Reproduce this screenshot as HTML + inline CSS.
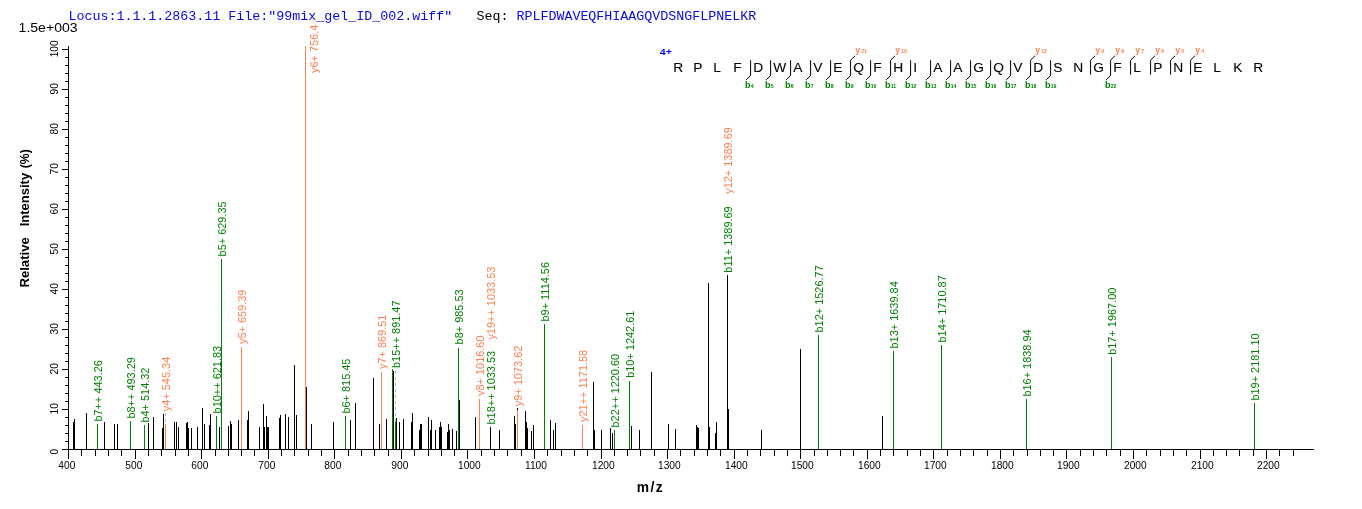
<!DOCTYPE html>
<html><head><meta charset="utf-8"><title>Spectrum</title>
<style>
html,body{margin:0;padding:0;background:#fff;}
svg{display:block;}
.ax{font-family:"Liberation Sans",Arial,sans-serif;}
.mono{font-family:"Liberation Mono","Courier New",monospace;}
</style></head><body>
<svg width="1362" height="509" viewBox="0 0 1362 509">
<rect x="0" y="0" width="1362" height="509" fill="#ffffff"/>

<text class="mono" x="68.4" y="19.6" font-size="13.33" fill="#0808e0" xml:space="preserve">Locus:1.1.1.2863.11 File:"99mix_gel_ID_002.wiff"</text>
<text class="mono" x="476.4" y="19.6" font-size="13.33" fill="#000" xml:space="preserve">Seq:</text>
<text class="mono" x="516.4" y="19.6" font-size="13.33" fill="#0808e0">RPLFDWAVEQFHIAAGQVDSNGFLPNELKR</text>
<text class="ax" x="18.6" y="31.7" font-size="12.3" textLength="59" lengthAdjust="spacingAndGlyphs" fill="#000">1.5e+003</text>
<g shape-rendering="crispEdges" fill="#000">
<rect x="68" y="46" width="1" height="404"/>
<rect x="62" y="449" width="1252" height="1"/>
<rect x="62" y="449" width="6" height="1"/>
<rect x="65" y="441" width="3" height="1"/>
<rect x="65" y="433" width="3" height="1"/>
<rect x="65" y="425" width="3" height="1"/>
<rect x="65" y="417" width="3" height="1"/>
<rect x="62" y="409" width="6" height="1"/>
<rect x="65" y="401" width="3" height="1"/>
<rect x="65" y="393" width="3" height="1"/>
<rect x="65" y="385" width="3" height="1"/>
<rect x="65" y="377" width="3" height="1"/>
<rect x="62" y="369" width="6" height="1"/>
<rect x="65" y="361" width="3" height="1"/>
<rect x="65" y="353" width="3" height="1"/>
<rect x="65" y="345" width="3" height="1"/>
<rect x="65" y="337" width="3" height="1"/>
<rect x="62" y="329" width="6" height="1"/>
<rect x="65" y="321" width="3" height="1"/>
<rect x="65" y="313" width="3" height="1"/>
<rect x="65" y="305" width="3" height="1"/>
<rect x="65" y="297" width="3" height="1"/>
<rect x="62" y="289" width="6" height="1"/>
<rect x="65" y="281" width="3" height="1"/>
<rect x="65" y="273" width="3" height="1"/>
<rect x="65" y="265" width="3" height="1"/>
<rect x="65" y="257" width="3" height="1"/>
<rect x="62" y="249" width="6" height="1"/>
<rect x="65" y="241" width="3" height="1"/>
<rect x="65" y="233" width="3" height="1"/>
<rect x="65" y="225" width="3" height="1"/>
<rect x="65" y="217" width="3" height="1"/>
<rect x="62" y="209" width="6" height="1"/>
<rect x="65" y="201" width="3" height="1"/>
<rect x="65" y="193" width="3" height="1"/>
<rect x="65" y="185" width="3" height="1"/>
<rect x="65" y="177" width="3" height="1"/>
<rect x="62" y="169" width="6" height="1"/>
<rect x="65" y="161" width="3" height="1"/>
<rect x="65" y="153" width="3" height="1"/>
<rect x="65" y="145" width="3" height="1"/>
<rect x="65" y="137" width="3" height="1"/>
<rect x="62" y="129" width="6" height="1"/>
<rect x="65" y="121" width="3" height="1"/>
<rect x="65" y="113" width="3" height="1"/>
<rect x="65" y="105" width="3" height="1"/>
<rect x="65" y="97" width="3" height="1"/>
<rect x="62" y="89" width="6" height="1"/>
<rect x="65" y="81" width="3" height="1"/>
<rect x="65" y="73" width="3" height="1"/>
<rect x="65" y="65" width="3" height="1"/>
<rect x="65" y="57" width="3" height="1"/>
<rect x="62" y="49" width="6" height="1"/>
<rect x="68" y="450" width="1" height="9"/>
<rect x="81" y="450" width="1" height="6"/>
<rect x="95" y="450" width="1" height="6"/>
<rect x="108" y="450" width="1" height="6"/>
<rect x="121" y="450" width="1" height="6"/>
<rect x="135" y="450" width="1" height="9"/>
<rect x="148" y="450" width="1" height="6"/>
<rect x="161" y="450" width="1" height="6"/>
<rect x="175" y="450" width="1" height="6"/>
<rect x="188" y="450" width="1" height="6"/>
<rect x="201" y="450" width="1" height="9"/>
<rect x="215" y="450" width="1" height="6"/>
<rect x="228" y="450" width="1" height="6"/>
<rect x="241" y="450" width="1" height="6"/>
<rect x="254" y="450" width="1" height="6"/>
<rect x="268" y="450" width="1" height="9"/>
<rect x="281" y="450" width="1" height="6"/>
<rect x="294" y="450" width="1" height="6"/>
<rect x="308" y="450" width="1" height="6"/>
<rect x="321" y="450" width="1" height="6"/>
<rect x="334" y="450" width="1" height="9"/>
<rect x="348" y="450" width="1" height="6"/>
<rect x="361" y="450" width="1" height="6"/>
<rect x="374" y="450" width="1" height="6"/>
<rect x="388" y="450" width="1" height="6"/>
<rect x="401" y="450" width="1" height="9"/>
<rect x="414" y="450" width="1" height="6"/>
<rect x="428" y="450" width="1" height="6"/>
<rect x="441" y="450" width="1" height="6"/>
<rect x="454" y="450" width="1" height="6"/>
<rect x="467" y="450" width="1" height="9"/>
<rect x="481" y="450" width="1" height="6"/>
<rect x="494" y="450" width="1" height="6"/>
<rect x="507" y="450" width="1" height="6"/>
<rect x="521" y="450" width="1" height="6"/>
<rect x="534" y="450" width="1" height="9"/>
<rect x="547" y="450" width="1" height="6"/>
<rect x="561" y="450" width="1" height="6"/>
<rect x="574" y="450" width="1" height="6"/>
<rect x="587" y="450" width="1" height="6"/>
<rect x="601" y="450" width="1" height="9"/>
<rect x="614" y="450" width="1" height="6"/>
<rect x="627" y="450" width="1" height="6"/>
<rect x="640" y="450" width="1" height="6"/>
<rect x="654" y="450" width="1" height="6"/>
<rect x="667" y="450" width="1" height="9"/>
<rect x="680" y="450" width="1" height="6"/>
<rect x="694" y="450" width="1" height="6"/>
<rect x="707" y="450" width="1" height="6"/>
<rect x="720" y="450" width="1" height="6"/>
<rect x="734" y="450" width="1" height="9"/>
<rect x="747" y="450" width="1" height="6"/>
<rect x="760" y="450" width="1" height="6"/>
<rect x="774" y="450" width="1" height="6"/>
<rect x="787" y="450" width="1" height="6"/>
<rect x="800" y="450" width="1" height="9"/>
<rect x="814" y="450" width="1" height="6"/>
<rect x="827" y="450" width="1" height="6"/>
<rect x="840" y="450" width="1" height="6"/>
<rect x="853" y="450" width="1" height="6"/>
<rect x="867" y="450" width="1" height="9"/>
<rect x="880" y="450" width="1" height="6"/>
<rect x="893" y="450" width="1" height="6"/>
<rect x="907" y="450" width="1" height="6"/>
<rect x="920" y="450" width="1" height="6"/>
<rect x="933" y="450" width="1" height="9"/>
<rect x="947" y="450" width="1" height="6"/>
<rect x="960" y="450" width="1" height="6"/>
<rect x="973" y="450" width="1" height="6"/>
<rect x="987" y="450" width="1" height="6"/>
<rect x="1000" y="450" width="1" height="9"/>
<rect x="1013" y="450" width="1" height="6"/>
<rect x="1027" y="450" width="1" height="6"/>
<rect x="1040" y="450" width="1" height="6"/>
<rect x="1053" y="450" width="1" height="6"/>
<rect x="1066" y="450" width="1" height="9"/>
<rect x="1080" y="450" width="1" height="6"/>
<rect x="1093" y="450" width="1" height="6"/>
<rect x="1106" y="450" width="1" height="6"/>
<rect x="1120" y="450" width="1" height="6"/>
<rect x="1133" y="450" width="1" height="9"/>
<rect x="1146" y="450" width="1" height="6"/>
<rect x="1160" y="450" width="1" height="6"/>
<rect x="1173" y="450" width="1" height="6"/>
<rect x="1186" y="450" width="1" height="6"/>
<rect x="1200" y="450" width="1" height="9"/>
<rect x="1213" y="450" width="1" height="6"/>
<rect x="1226" y="450" width="1" height="6"/>
<rect x="1239" y="450" width="1" height="6"/>
<rect x="1253" y="450" width="1" height="6"/>
<rect x="1266" y="450" width="1" height="9"/>
<rect x="1279" y="450" width="1" height="6"/>
<rect x="1293" y="450" width="1" height="6"/>
</g>
<text class="ax" x="58.3" y="469" font-size="10.2" fill="#000">400</text>
<text class="ax" x="125.3" y="469" font-size="10.2" fill="#000">500</text>
<text class="ax" x="191.3" y="469" font-size="10.2" fill="#000">600</text>
<text class="ax" x="258.3" y="469" font-size="10.2" fill="#000">700</text>
<text class="ax" x="324.3" y="469" font-size="10.2" fill="#000">800</text>
<text class="ax" x="391.3" y="469" font-size="10.2" fill="#000">900</text>
<text class="ax" x="458.0" y="469" font-size="10.2" fill="#000">1000</text>
<text class="ax" x="525.0" y="469" font-size="10.2" fill="#000">1100</text>
<text class="ax" x="592.0" y="469" font-size="10.2" fill="#000">1200</text>
<text class="ax" x="658.0" y="469" font-size="10.2" fill="#000">1300</text>
<text class="ax" x="725.0" y="469" font-size="10.2" fill="#000">1400</text>
<text class="ax" x="791.0" y="469" font-size="10.2" fill="#000">1500</text>
<text class="ax" x="858.0" y="469" font-size="10.2" fill="#000">1600</text>
<text class="ax" x="924.0" y="469" font-size="10.2" fill="#000">1700</text>
<text class="ax" x="991.0" y="469" font-size="10.2" fill="#000">1800</text>
<text class="ax" x="1057.0" y="469" font-size="10.2" fill="#000">1900</text>
<text class="ax" x="1124.0" y="469" font-size="10.2" fill="#000">2000</text>
<text class="ax" x="1191.0" y="469" font-size="10.2" fill="#000">2100</text>
<text class="ax" x="1257.0" y="469" font-size="10.2" fill="#000">2200</text>
<text class="ax" font-size="10.2" fill="#000" transform="translate(57.6,454.6) rotate(-90)">0</text>
<text class="ax" font-size="10.2" fill="#000" text-anchor="middle" transform="translate(57.6,408.8) rotate(-90)">10</text>
<text class="ax" font-size="10.2" fill="#000" text-anchor="middle" transform="translate(57.6,368.8) rotate(-90)">20</text>
<text class="ax" font-size="10.2" fill="#000" text-anchor="middle" transform="translate(57.6,328.8) rotate(-90)">30</text>
<text class="ax" font-size="10.2" fill="#000" text-anchor="middle" transform="translate(57.6,288.8) rotate(-90)">40</text>
<text class="ax" font-size="10.2" fill="#000" text-anchor="middle" transform="translate(57.6,248.8) rotate(-90)">50</text>
<text class="ax" font-size="10.2" fill="#000" text-anchor="middle" transform="translate(57.6,208.8) rotate(-90)">60</text>
<text class="ax" font-size="10.2" fill="#000" text-anchor="middle" transform="translate(57.6,168.8) rotate(-90)">70</text>
<text class="ax" font-size="10.2" fill="#000" text-anchor="middle" transform="translate(57.6,128.8) rotate(-90)">80</text>
<text class="ax" font-size="10.2" fill="#000" text-anchor="middle" transform="translate(57.6,88.8) rotate(-90)">90</text>
<text class="ax" font-size="10.2" fill="#000" text-anchor="middle" transform="translate(57.6,48.8) rotate(-90)">100</text>
<text class="ax" font-size="13.33" font-weight="bold" fill="#000" transform="translate(29.2,287.6) rotate(-90)" textLength="50.4" lengthAdjust="spacingAndGlyphs">Relative</text>
<text class="ax" font-size="13.33" font-weight="bold" fill="#000" transform="translate(29.2,226.3) rotate(-90)" textLength="53.5" lengthAdjust="spacingAndGlyphs">Intensity</text>
<text class="ax" font-size="13.33" font-weight="bold" fill="#000" transform="translate(29.2,168.2) rotate(-90)" textLength="19" lengthAdjust="spacingAndGlyphs">(%)</text>
<text class="ax" font-size="13.8" font-weight="bold" fill="#000" x="636.7" y="491.7" letter-spacing="1.5">m/z</text>
<g shape-rendering="crispEdges">
<rect x="73" y="422" width="1" height="27" fill="#000000"/>
<rect x="74" y="419" width="1" height="30" fill="#000000"/>
<rect x="86" y="413" width="1" height="36" fill="#000000"/>
<rect x="97" y="424" width="1" height="25" fill="#008000"/>
<rect x="104" y="422" width="1" height="27" fill="#000000"/>
<rect x="114" y="424" width="1" height="25" fill="#000000"/>
<rect x="117" y="424" width="1" height="25" fill="#000000"/>
<rect x="130" y="421" width="1" height="28" fill="#008000"/>
<rect x="144" y="425" width="1" height="24" fill="#008000"/>
<rect x="148" y="423" width="1" height="26" fill="#000000"/>
<rect x="153" y="417" width="1" height="32" fill="#000000"/>
<rect x="162" y="428" width="1" height="21" fill="#000000"/>
<rect x="163" y="414" width="1" height="35" fill="#000000"/>
<rect x="165" y="424" width="1" height="25" fill="#ff7f50"/>
<rect x="174" y="422" width="1" height="27" fill="#000000"/>
<rect x="176" y="422" width="1" height="27" fill="#000000"/>
<rect x="178" y="427" width="1" height="22" fill="#000000"/>
<rect x="186" y="423" width="1" height="26" fill="#000000"/>
<rect x="187" y="422" width="1" height="27" fill="#000000"/>
<rect x="188" y="428" width="1" height="21" fill="#000000"/>
<rect x="191" y="428" width="1" height="21" fill="#000000"/>
<rect x="197" y="427" width="1" height="22" fill="#000000"/>
<rect x="202" y="408" width="1" height="41" fill="#000000"/>
<rect x="204" y="424" width="1" height="25" fill="#000000"/>
<rect x="209" y="425" width="1" height="24" fill="#000000"/>
<rect x="210" y="414" width="1" height="35" fill="#000000"/>
<rect x="216" y="416" width="1" height="33" fill="#008000"/>
<rect x="219" y="427" width="1" height="22" fill="#000000"/>
<rect x="221" y="259" width="1" height="190" fill="#008000"/>
<rect x="228" y="426" width="1" height="23" fill="#000000"/>
<rect x="230" y="421" width="1" height="28" fill="#000000"/>
<rect x="231" y="424" width="1" height="25" fill="#000000"/>
<rect x="238" y="420" width="1" height="29" fill="#000000"/>
<rect x="241" y="347" width="1" height="102" fill="#ff7f50"/>
<rect x="247" y="420" width="1" height="29" fill="#000000"/>
<rect x="248" y="411" width="1" height="38" fill="#000000"/>
<rect x="259" y="427" width="1" height="22" fill="#000000"/>
<rect x="263" y="404" width="1" height="45" fill="#000000"/>
<rect x="264" y="427" width="1" height="22" fill="#000000"/>
<rect x="266" y="416" width="1" height="33" fill="#000000"/>
<rect x="267" y="427" width="1" height="22" fill="#000000"/>
<rect x="268" y="427" width="1" height="22" fill="#000000"/>
<rect x="279" y="418" width="1" height="31" fill="#000000"/>
<rect x="280" y="415" width="1" height="34" fill="#000000"/>
<rect x="285" y="414" width="1" height="35" fill="#000000"/>
<rect x="288" y="417" width="1" height="32" fill="#000000"/>
<rect x="294" y="365" width="1" height="84" fill="#000000"/>
<rect x="296" y="415" width="1" height="34" fill="#000000"/>
<rect x="305" y="46" width="1" height="403" fill="#ff7f50"/>
<rect x="306" y="387" width="1" height="62" fill="#000000"/>
<rect x="311" y="424" width="1" height="25" fill="#000000"/>
<rect x="333" y="422" width="1" height="27" fill="#000000"/>
<rect x="345" y="416" width="1" height="33" fill="#008000"/>
<rect x="350" y="420" width="1" height="29" fill="#000000"/>
<rect x="355" y="403" width="1" height="46" fill="#000000"/>
<rect x="373" y="378" width="1" height="71" fill="#000000"/>
<rect x="379" y="424" width="1" height="25" fill="#000000"/>
<rect x="381" y="372" width="1" height="77" fill="#ff7f50"/>
<rect x="386" y="419" width="1" height="30" fill="#000000"/>
<rect x="392" y="369" width="1" height="80" fill="#008000"/>
<rect x="393" y="371" width="1" height="78" fill="#000000"/>
<rect x="395" y="422" width="1" height="27" fill="#008000"/>
<rect x="396" y="418" width="1" height="31" fill="#000000"/>
<rect x="399" y="422" width="1" height="27" fill="#000000"/>
<rect x="403" y="419" width="1" height="30" fill="#000000"/>
<rect x="411" y="422" width="1" height="27" fill="#000000"/>
<rect x="412" y="413" width="1" height="36" fill="#000000"/>
<rect x="419" y="430" width="1" height="19" fill="#000000"/>
<rect x="420" y="424" width="1" height="25" fill="#000000"/>
<rect x="421" y="424" width="1" height="25" fill="#000000"/>
<rect x="428" y="417" width="1" height="32" fill="#000000"/>
<rect x="430" y="430" width="1" height="19" fill="#000000"/>
<rect x="431" y="420" width="1" height="29" fill="#000000"/>
<rect x="435" y="430" width="1" height="19" fill="#000000"/>
<rect x="439" y="427" width="1" height="22" fill="#000000"/>
<rect x="440" y="422" width="1" height="27" fill="#000000"/>
<rect x="441" y="427" width="1" height="22" fill="#000000"/>
<rect x="447" y="432" width="1" height="17" fill="#000000"/>
<rect x="448" y="424" width="1" height="25" fill="#000000"/>
<rect x="449" y="430" width="1" height="19" fill="#000000"/>
<rect x="452" y="429" width="1" height="20" fill="#000000"/>
<rect x="456" y="431" width="1" height="18" fill="#000000"/>
<rect x="458" y="348" width="1" height="101" fill="#008000"/>
<rect x="459" y="400" width="1" height="49" fill="#000000"/>
<rect x="475" y="417" width="1" height="32" fill="#000000"/>
<rect x="479" y="399" width="1" height="50" fill="#ff7f50"/>
<rect x="490" y="427" width="1" height="22" fill="#000000"/>
<rect x="499" y="430" width="1" height="19" fill="#000000"/>
<rect x="514" y="416" width="1" height="33" fill="#000000"/>
<rect x="515" y="424" width="1" height="25" fill="#000000"/>
<rect x="517" y="408" width="1" height="41" fill="#000000"/>
<rect x="517" y="410" width="1" height="39" fill="#ff7f50"/>
<rect x="525" y="411" width="1" height="38" fill="#000000"/>
<rect x="526" y="422" width="1" height="27" fill="#000000"/>
<rect x="527" y="428" width="1" height="21" fill="#000000"/>
<rect x="531" y="431" width="1" height="18" fill="#000000"/>
<rect x="533" y="425" width="1" height="24" fill="#000000"/>
<rect x="544" y="324" width="1" height="125" fill="#008000"/>
<rect x="550" y="420" width="1" height="29" fill="#000000"/>
<rect x="553" y="430" width="1" height="19" fill="#000000"/>
<rect x="555" y="423" width="1" height="26" fill="#000000"/>
<rect x="582" y="425" width="1" height="24" fill="#ff7f50"/>
<rect x="593" y="382" width="1" height="67" fill="#000000"/>
<rect x="594" y="430" width="1" height="19" fill="#000000"/>
<rect x="601" y="430" width="1" height="19" fill="#000000"/>
<rect x="610" y="428" width="1" height="21" fill="#000000"/>
<rect x="612" y="433" width="1" height="16" fill="#000000"/>
<rect x="614" y="430" width="1" height="19" fill="#008000"/>
<rect x="629" y="381" width="1" height="68" fill="#008000"/>
<rect x="631" y="426" width="1" height="23" fill="#000000"/>
<rect x="639" y="430" width="1" height="19" fill="#000000"/>
<rect x="651" y="372" width="1" height="77" fill="#000000"/>
<rect x="668" y="424" width="1" height="25" fill="#000000"/>
<rect x="675" y="429" width="1" height="20" fill="#000000"/>
<rect x="696" y="425" width="1" height="24" fill="#000000"/>
<rect x="697" y="427" width="1" height="22" fill="#000000"/>
<rect x="698" y="428" width="1" height="21" fill="#000000"/>
<rect x="708" y="283" width="1" height="166" fill="#000000"/>
<rect x="709" y="427" width="1" height="22" fill="#000000"/>
<rect x="715" y="433" width="1" height="16" fill="#000000"/>
<rect x="716" y="422" width="1" height="27" fill="#000000"/>
<rect x="727" y="275" width="1" height="174" fill="#000000"/>
<rect x="728" y="409" width="1" height="40" fill="#000000"/>
<rect x="761" y="430" width="1" height="19" fill="#000000"/>
<rect x="800" y="349" width="1" height="100" fill="#000000"/>
<rect x="818" y="335" width="1" height="114" fill="#008000"/>
<rect x="882" y="416" width="1" height="33" fill="#000000"/>
<rect x="893" y="351" width="1" height="98" fill="#008000"/>
<rect x="941" y="345" width="1" height="104" fill="#008000"/>
<rect x="1026" y="399" width="1" height="50" fill="#008000"/>
<rect x="1111" y="357" width="1" height="92" fill="#008000"/>
<rect x="1254" y="403" width="1" height="46" fill="#008000"/>
<rect x="165" y="413" width="1" height="3" fill="#c0c0c0"/>
<rect x="165" y="419" width="1" height="3" fill="#c0c0c0"/>
<rect x="395" y="371" width="1" height="3" fill="#c0c0c0"/>
<rect x="395" y="377" width="1" height="3" fill="#c0c0c0"/>
<rect x="395" y="383" width="1" height="3" fill="#c0c0c0"/>
<rect x="395" y="389" width="1" height="3" fill="#c0c0c0"/>
<rect x="395" y="395" width="1" height="3" fill="#c0c0c0"/>
<rect x="395" y="401" width="1" height="3" fill="#c0c0c0"/>
<rect x="395" y="407" width="1" height="3" fill="#c0c0c0"/>
<rect x="395" y="413" width="1" height="3" fill="#c0c0c0"/>
<rect x="395" y="419" width="1" height="3" fill="#c0c0c0"/>
</g>
<text class="ax" font-size="10.95" fill="#008000" transform="translate(102.3,421.6) rotate(-90)" xml:space="preserve">b7++ 443.26</text>
<text class="ax" font-size="10.95" fill="#008000" transform="translate(135.3,418.6) rotate(-90)" xml:space="preserve">b8++ 493.29</text>
<text class="ax" font-size="10.95" fill="#008000" transform="translate(149.3,422.6) rotate(-90)" xml:space="preserve">b4+ 514.32</text>
<text class="ax" font-size="10.95" fill="#ff7f50" transform="translate(170.3,411.2) rotate(-90)" xml:space="preserve">y4+ 545.34</text>
<text class="ax" font-size="10.95" fill="#008000" transform="translate(221.3,413.4) rotate(-90)" xml:space="preserve">b10++ 621.83</text>
<text class="ax" font-size="10.95" fill="#008000" transform="translate(226.3,256.4) rotate(-90)" xml:space="preserve">b5+ 629.35</text>
<text class="ax" font-size="10.95" fill="#ff7f50" transform="translate(246.3,344.0) rotate(-90)" xml:space="preserve">y5+ 659.39</text>
<text class="ax" font-size="10.95" fill="#ff7f50" transform="translate(317.5,73.0) rotate(-90)" xml:space="preserve">y6+ 756.4</text>
<text class="ax" font-size="10.95" fill="#008000" transform="translate(350.3,413.6) rotate(-90)" xml:space="preserve">b6+ 815.45</text>
<text class="ax" font-size="10.95" fill="#ff7f50" transform="translate(386.3,369.0) rotate(-90)" xml:space="preserve">y7+ 869.51</text>
<text class="ax" font-size="10.95" fill="#008000" transform="translate(400.3,368.0) rotate(-90)" xml:space="preserve">b15++ 891.47</text>
<text class="ax" font-size="10.95" fill="#008000" transform="translate(463.3,344.4) rotate(-90)" xml:space="preserve">b8+ 985.53</text>
<text class="ax" font-size="10.95" fill="#ff7f50" transform="translate(484.3,396.0) rotate(-90)" xml:space="preserve">y8+ 1016.60</text>
<text class="ax" font-size="10.95" fill="#ff7f50" transform="translate(495.3,339.6) rotate(-90)" xml:space="preserve">y19++ 1033.53</text>
<rect x="484.7" y="352" width="12" height="73" fill="#fff"/>
<text class="ax" font-size="10.95" fill="#008000" transform="translate(495.3,424.5) rotate(-90)" xml:space="preserve">b18++ 1033.53</text>
<text class="ax" font-size="10.95" fill="#ff7f50" transform="translate(522.3,406.2) rotate(-90)" xml:space="preserve">y9+ 1073.62</text>
<text class="ax" font-size="10.95" fill="#008000" transform="translate(549.3,321.5) rotate(-90)" xml:space="preserve">b9+ 1114.56</text>
<text class="ax" font-size="10.95" fill="#ff7f50" transform="translate(587.3,422.0) rotate(-90)" xml:space="preserve">y21++ 1171.58</text>
<text class="ax" font-size="10.95" fill="#008000" transform="translate(619.3,427.5) rotate(-90)" xml:space="preserve">b22++ 1220.60</text>
<text class="ax" font-size="10.95" fill="#008000" transform="translate(634.3,377.8) rotate(-90)" xml:space="preserve">b10+ 1242.61</text>
<text class="ax" font-size="10.95" fill="#ff7f50" transform="translate(732.3,193.8) rotate(-90)" xml:space="preserve">y12+ 1389.69</text>
<text class="ax" font-size="10.95" fill="#008000" transform="translate(732.3,272.7) rotate(-90)" xml:space="preserve">b11+ 1389.69</text>
<text class="ax" font-size="10.95" fill="#008000" transform="translate(823.3,332.5) rotate(-90)" xml:space="preserve">b12+ 1526.77</text>
<text class="ax" font-size="10.95" fill="#008000" transform="translate(898.3,348.5) rotate(-90)" xml:space="preserve">b13+ 1639.84</text>
<text class="ax" font-size="10.95" fill="#008000" transform="translate(946.3,342.5) rotate(-90)" xml:space="preserve">b14+ 1710.87</text>
<text class="ax" font-size="10.95" fill="#008000" transform="translate(1031.3,396.6) rotate(-90)" xml:space="preserve">b16+ 1838.94</text>
<text class="ax" font-size="10.95" fill="#008000" transform="translate(1116.3,354.8) rotate(-90)" xml:space="preserve">b17+ 1967.00</text>
<text class="ax" font-size="10.95" fill="#008000" transform="translate(1259.3,400.6) rotate(-90)" xml:space="preserve">b19+ 2181.10</text>
<text class="ax" font-size="9.2" font-weight="bold" fill="#0000ff" transform="translate(659.8,54.8) scale(1.17,1)">4+</text>
<text class="ax" font-size="12.5" fill="#000" stroke="#000" stroke-width="0.1" transform="translate(673.2,72) scale(1.1,1)">R</text>
<text class="ax" font-size="12.5" fill="#000" stroke="#000" stroke-width="0.1" transform="translate(693.2,72) scale(1.1,1)">P</text>
<text class="ax" font-size="12.5" fill="#000" stroke="#000" stroke-width="0.1" transform="translate(713.2,72) scale(1.1,1)">L</text>
<text class="ax" font-size="12.5" fill="#000" stroke="#000" stroke-width="0.1" transform="translate(733.2,72) scale(1.1,1)">F</text>
<text class="ax" font-size="12.5" fill="#000" stroke="#000" stroke-width="0.1" transform="translate(753.2,72) scale(1.1,1)">D</text>
<text class="ax" font-size="12.5" fill="#000" stroke="#000" stroke-width="0.1" transform="translate(773.2,72) scale(1.1,1)">W</text>
<text class="ax" font-size="12.5" fill="#000" stroke="#000" stroke-width="0.1" transform="translate(793.2,72) scale(1.1,1)">A</text>
<text class="ax" font-size="12.5" fill="#000" stroke="#000" stroke-width="0.1" transform="translate(813.2,72) scale(1.1,1)">V</text>
<text class="ax" font-size="12.5" fill="#000" stroke="#000" stroke-width="0.1" transform="translate(833.2,72) scale(1.1,1)">E</text>
<text class="ax" font-size="12.5" fill="#000" stroke="#000" stroke-width="0.1" transform="translate(853.2,72) scale(1.1,1)">Q</text>
<text class="ax" font-size="12.5" fill="#000" stroke="#000" stroke-width="0.1" transform="translate(873.2,72) scale(1.1,1)">F</text>
<text class="ax" font-size="12.5" fill="#000" stroke="#000" stroke-width="0.1" transform="translate(893.2,72) scale(1.1,1)">H</text>
<text class="ax" font-size="12.5" fill="#000" stroke="#000" stroke-width="0.1" transform="translate(913.2,72) scale(1.1,1)">I</text>
<text class="ax" font-size="12.5" fill="#000" stroke="#000" stroke-width="0.1" transform="translate(933.2,72) scale(1.1,1)">A</text>
<text class="ax" font-size="12.5" fill="#000" stroke="#000" stroke-width="0.1" transform="translate(953.2,72) scale(1.1,1)">A</text>
<text class="ax" font-size="12.5" fill="#000" stroke="#000" stroke-width="0.1" transform="translate(973.2,72) scale(1.1,1)">G</text>
<text class="ax" font-size="12.5" fill="#000" stroke="#000" stroke-width="0.1" transform="translate(993.2,72) scale(1.1,1)">Q</text>
<text class="ax" font-size="12.5" fill="#000" stroke="#000" stroke-width="0.1" transform="translate(1013.2,72) scale(1.1,1)">V</text>
<text class="ax" font-size="12.5" fill="#000" stroke="#000" stroke-width="0.1" transform="translate(1033.2,72) scale(1.1,1)">D</text>
<text class="ax" font-size="12.5" fill="#000" stroke="#000" stroke-width="0.1" transform="translate(1053.2,72) scale(1.1,1)">S</text>
<text class="ax" font-size="12.5" fill="#000" stroke="#000" stroke-width="0.1" transform="translate(1073.2,72) scale(1.1,1)">N</text>
<text class="ax" font-size="12.5" fill="#000" stroke="#000" stroke-width="0.1" transform="translate(1093.2,72) scale(1.1,1)">G</text>
<text class="ax" font-size="12.5" fill="#000" stroke="#000" stroke-width="0.1" transform="translate(1113.2,72) scale(1.1,1)">F</text>
<text class="ax" font-size="12.5" fill="#000" stroke="#000" stroke-width="0.1" transform="translate(1133.2,72) scale(1.1,1)">L</text>
<text class="ax" font-size="12.5" fill="#000" stroke="#000" stroke-width="0.1" transform="translate(1153.2,72) scale(1.1,1)">P</text>
<text class="ax" font-size="12.5" fill="#000" stroke="#000" stroke-width="0.1" transform="translate(1173.2,72) scale(1.1,1)">N</text>
<text class="ax" font-size="12.5" fill="#000" stroke="#000" stroke-width="0.1" transform="translate(1193.2,72) scale(1.1,1)">E</text>
<text class="ax" font-size="12.5" fill="#000" stroke="#000" stroke-width="0.1" transform="translate(1213.2,72) scale(1.1,1)">L</text>
<text class="ax" font-size="12.5" fill="#000" stroke="#000" stroke-width="0.1" transform="translate(1233.2,72) scale(1.1,1)">K</text>
<text class="ax" font-size="12.5" fill="#000" stroke="#000" stroke-width="0.1" transform="translate(1253.2,72) scale(1.1,1)">R</text>
<g stroke="#000" stroke-width="1" fill="none">
<polyline points="750.6,60.2 750.6,75.6 746.2,79.8"/>
<polyline points="770.6,60.2 770.6,75.6 766.2,79.8"/>
<polyline points="790.6,60.2 790.6,75.6 786.2,79.8"/>
<polyline points="810.6,60.2 810.6,75.6 806.2,79.8"/>
<polyline points="830.6,60.2 830.6,75.6 826.2,79.8"/>
<polyline points="855.0,55.8 850.6,60.2 850.6,75.6 846.2,79.8"/>
<polyline points="870.6,60.2 870.6,75.6 866.2,79.8"/>
<polyline points="895.0,55.8 890.6,60.2 890.6,75.6 886.2,79.8"/>
<polyline points="910.6,60.2 910.6,75.6 906.2,79.8"/>
<polyline points="930.6,60.2 930.6,75.6 926.2,79.8"/>
<polyline points="950.6,60.2 950.6,75.6 946.2,79.8"/>
<polyline points="970.6,60.2 970.6,75.6 966.2,79.8"/>
<polyline points="990.6,60.2 990.6,75.6 986.2,79.8"/>
<polyline points="1010.6,60.2 1010.6,75.6 1006.2,79.8"/>
<polyline points="1035.0,55.8 1030.6,60.2 1030.6,75.6 1026.2,79.8"/>
<polyline points="1050.6,60.2 1050.6,75.6 1046.2,79.8"/>
<polyline points="1095.0,55.8 1090.6,60.2 1090.6,74.8"/>
<polyline points="1115.0,55.8 1110.6,60.2 1110.6,75.6 1106.2,79.8"/>
<polyline points="1135.0,55.8 1130.6,60.2 1130.6,74.8"/>
<polyline points="1155.0,55.8 1150.6,60.2 1150.6,74.8"/>
<polyline points="1175.0,55.8 1170.6,60.2 1170.6,74.8"/>
<polyline points="1195.0,55.8 1190.6,60.2 1190.6,74.8"/>
</g>
<text class="ax" font-weight="bold" fill="#008000" x="744.9" y="87.6" font-size="9.2">b<tspan font-size="5.2" dx="0.2">4</tspan></text>
<text class="ax" font-weight="bold" fill="#008000" x="764.9" y="87.6" font-size="9.2">b<tspan font-size="5.2" dx="0.2">5</tspan></text>
<text class="ax" font-weight="bold" fill="#008000" x="784.9" y="87.6" font-size="9.2">b<tspan font-size="5.2" dx="0.2">6</tspan></text>
<text class="ax" font-weight="bold" fill="#008000" x="804.9" y="87.6" font-size="9.2">b<tspan font-size="5.2" dx="0.2">7</tspan></text>
<text class="ax" font-weight="bold" fill="#008000" x="824.9" y="87.6" font-size="9.2">b<tspan font-size="5.2" dx="0.2">8</tspan></text>
<text class="ax" font-weight="bold" fill="#008000" x="844.9" y="87.6" font-size="9.2">b<tspan font-size="5.2" dx="0.2">9</tspan></text>
<text class="ax" font-weight="bold" fill="#008000" x="864.9" y="87.6" font-size="9.2">b<tspan font-size="5.2" dx="0.2">10</tspan></text>
<text class="ax" font-weight="bold" fill="#008000" x="884.9" y="87.6" font-size="9.2">b<tspan font-size="5.2" dx="0.2">11</tspan></text>
<text class="ax" font-weight="bold" fill="#008000" x="904.9" y="87.6" font-size="9.2">b<tspan font-size="5.2" dx="0.2">12</tspan></text>
<text class="ax" font-weight="bold" fill="#008000" x="924.9" y="87.6" font-size="9.2">b<tspan font-size="5.2" dx="0.2">13</tspan></text>
<text class="ax" font-weight="bold" fill="#008000" x="944.9" y="87.6" font-size="9.2">b<tspan font-size="5.2" dx="0.2">14</tspan></text>
<text class="ax" font-weight="bold" fill="#008000" x="964.9" y="87.6" font-size="9.2">b<tspan font-size="5.2" dx="0.2">15</tspan></text>
<text class="ax" font-weight="bold" fill="#008000" x="984.9" y="87.6" font-size="9.2">b<tspan font-size="5.2" dx="0.2">16</tspan></text>
<text class="ax" font-weight="bold" fill="#008000" x="1004.9" y="87.6" font-size="9.2">b<tspan font-size="5.2" dx="0.2">17</tspan></text>
<text class="ax" font-weight="bold" fill="#008000" x="1024.9" y="87.6" font-size="9.2">b<tspan font-size="5.2" dx="0.2">18</tspan></text>
<text class="ax" font-weight="bold" fill="#008000" x="1044.9" y="87.6" font-size="9.2">b<tspan font-size="5.2" dx="0.2">19</tspan></text>
<text class="ax" font-weight="bold" fill="#008000" x="1104.9" y="87.6" font-size="9.2">b<tspan font-size="5.2" dx="0.2">22</tspan></text>
<text class="ax" font-weight="bold" fill="#ff7f50" x="855.2" y="53" font-size="8.5">y<tspan font-size="5.2" dx="1.2">21</tspan></text>
<text class="ax" font-weight="bold" fill="#ff7f50" x="895.2" y="53" font-size="8.5">y<tspan font-size="5.2" dx="1.2">19</tspan></text>
<text class="ax" font-weight="bold" fill="#ff7f50" x="1035.2" y="53" font-size="8.5">y<tspan font-size="5.2" dx="1.2">12</tspan></text>
<text class="ax" font-weight="bold" fill="#ff7f50" x="1095.2" y="53" font-size="8.5">y<tspan font-size="5.2" dx="1.2">9</tspan></text>
<text class="ax" font-weight="bold" fill="#ff7f50" x="1115.2" y="53" font-size="8.5">y<tspan font-size="5.2" dx="1.2">8</tspan></text>
<text class="ax" font-weight="bold" fill="#ff7f50" x="1135.2" y="53" font-size="8.5">y<tspan font-size="5.2" dx="1.2">7</tspan></text>
<text class="ax" font-weight="bold" fill="#ff7f50" x="1155.2" y="53" font-size="8.5">y<tspan font-size="5.2" dx="1.2">6</tspan></text>
<text class="ax" font-weight="bold" fill="#ff7f50" x="1175.2" y="53" font-size="8.5">y<tspan font-size="5.2" dx="1.2">5</tspan></text>
<text class="ax" font-weight="bold" fill="#ff7f50" x="1195.2" y="53" font-size="8.5">y<tspan font-size="5.2" dx="1.2">4</tspan></text>
</svg></body></html>
